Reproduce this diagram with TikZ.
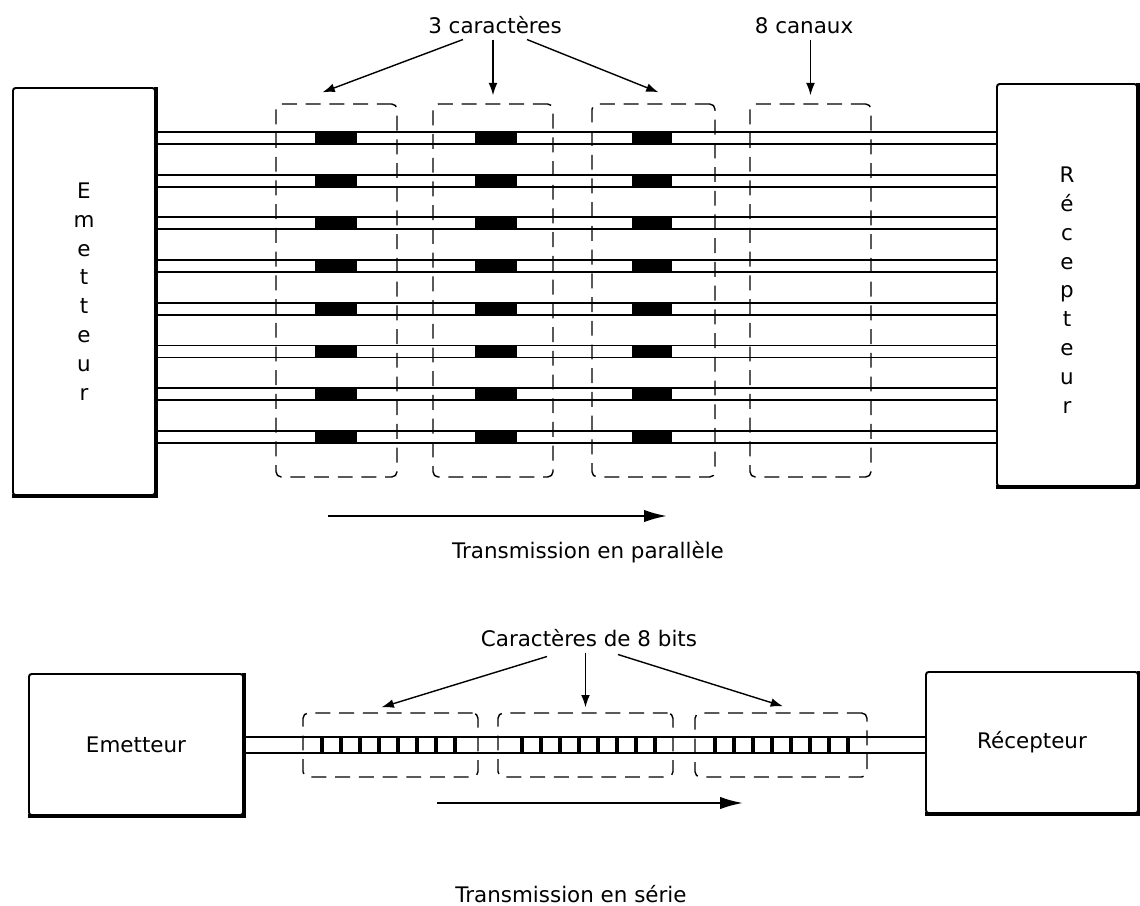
\documentclass[tikz,border=0pt]{standalone}
\usepackage{fontspec}
\setmainfont{DejaVu Sans}
\usetikzlibrary{arrows.meta, calc, fit}

\begin{document}
\begin{tikzpicture}[x=0.02cm, y=-0.02cm,
                font=\fontsize{12.2}{16.4}\selectfont,
                boite/.style={rectangle, draw, line width=1.1pt, rounded corners=1.5pt, inner sep=0pt},
                cadre/.style={rectangle, draw, thick, dash pattern=on 8.5pt off 5pt, rounded corners=3pt, inner sep=0pt},
                fil/.style={line width=1.1pt},
                bit/.style={line width=2pt},
                fleche/.style={thick, -{Latex[length=7pt, width=5pt]}},
                sens/.style={very thick, -{Latex[length=13pt, width=7pt]}},
                texte/.style={anchor=base}
            ]
                \useasboundingbox (0,0) rectangle (1140,906);

                % Transmission en parallele: emetteur et recepteur
                \node[boite, fit={(13,88) (155,495)},
                      label={[align=center, inner sep=0pt]center:E\\m\\e\\t\\t\\e\\u\\r}] (em1) {};
                \node[boite, fit={(997,84) (1137,486)},
                      label={[align=center, inner sep=0pt, yshift=-0.1cm]center:R\\é\\c\\e\\p\\t\\e\\u\\r}] (rec1) {};
                \draw[line width=2.2pt] (em1.north east) -- (em1.south east) -- (em1.south west);
                \draw[line width=2.2pt] (rec1.north east) -- (rec1.south east) -- (rec1.south west);

                % Les 8 canaux
                \foreach \k in {0,...,7} {
                    \coordinate (h\k) at (0,{132+42.7*\k});
                    \coordinate (b\k) at (0,{144+42.7*\k});
                    \draw[fil] (em1.east |- h\k) -- (rec1.west |- h\k);
                    \draw[fil] (em1.east |- b\k) -- (rec1.west |- b\k);
                    \foreach \xa/\w in {315/42, 475/42, 632/40}
                        \fill (\xa,{132+42.7*\k}) rectangle ++(\w,12);
                }

                % Cadres des caracteres
                \foreach \xa/\xb [count=\i] in {276/397, 433/553, 592/715, 750/871}
                    \node[cadre, fit={(\xa,104) (\xb,477)}] (c\i) {};

                % Etiquettes
                \node[texte] (car) at (495,33) {3 caractères};
                \node[texte] (can) at (804,33) {8 canaux};
                \draw[fleche] ($(car.south)+(-32,0)$) -- ($(c1.north)+(-14,-11)$);
                \draw[fleche] (car.south -| c2.north) -- ($(c2.north)+(0,-8)$);
                \draw[fleche] ($(car.south)+(32,0)$) -- ($(c3.north)+(5,-11)$);
                \draw[fleche] (can.south -| c4.north) -- ($(c4.north)+(0,-8)$);

                \coordinate (d1) at (328,516);
                \coordinate (f1) at (667,516);
                \draw[sens] (d1) -- (f1);
                \node[texte] (par) at (588,558) {Transmission en parallèle};

                % Transmission en serie
                \node[boite, fit={(29,674) (243,815)}, label=center:Emetteur] (em2) {};
                \node[boite, fit={(926,672) (1138,813)}, label=center:Récepteur] (rec2) {};
                \draw[line width=1.8pt] (em2.north east) -- (em2.south east) -- (em2.south west);
                \draw[line width=1.8pt] (rec2.north east) -- (rec2.south east) -- (rec2.south west);

                \coordinate (h8) at (0,737);
                \coordinate (b8) at (0,753);
                \draw[fil] (em2.east |- h8) -- (rec2.west |- h8);
                \draw[fil] (em2.east |- b8) -- (rec2.west |- b8);
                \foreach \xa in {322,522,715}
                    \foreach \b in {0,...,7}
                        \draw[bit] ({\xa+19*\b},737) -- ({\xa+19*\b},753);

                \foreach \xa/\xb [count=\i] in {303/478, 498/673, 695/867}
                    \node[cadre, fit={(\xa,713) (\xb,777)}] (s\i) {};

                \node[texte] (car8) at (589,646) {Caractères de 8 bits};
                \draw[fleche] ($(car8.south)+(-42,4)$) -- ($(s1.north)+(-9,-5)$);
                \draw[fleche] (car8.south -| s2.north) -- ($(s2.north)+(0,-5)$);
                \draw[fleche] ($(car8.south)+(29,2)$) -- ($(s3.north)+(2,-6)$);

                \coordinate (d2) at (437,803);
                \coordinate (f2) at (743,803);
                \draw[sens] (d2) -- (f2);
                \node[texte] (ser) at (571,902) {Transmission en série};
            \end{tikzpicture}
\end{document}
